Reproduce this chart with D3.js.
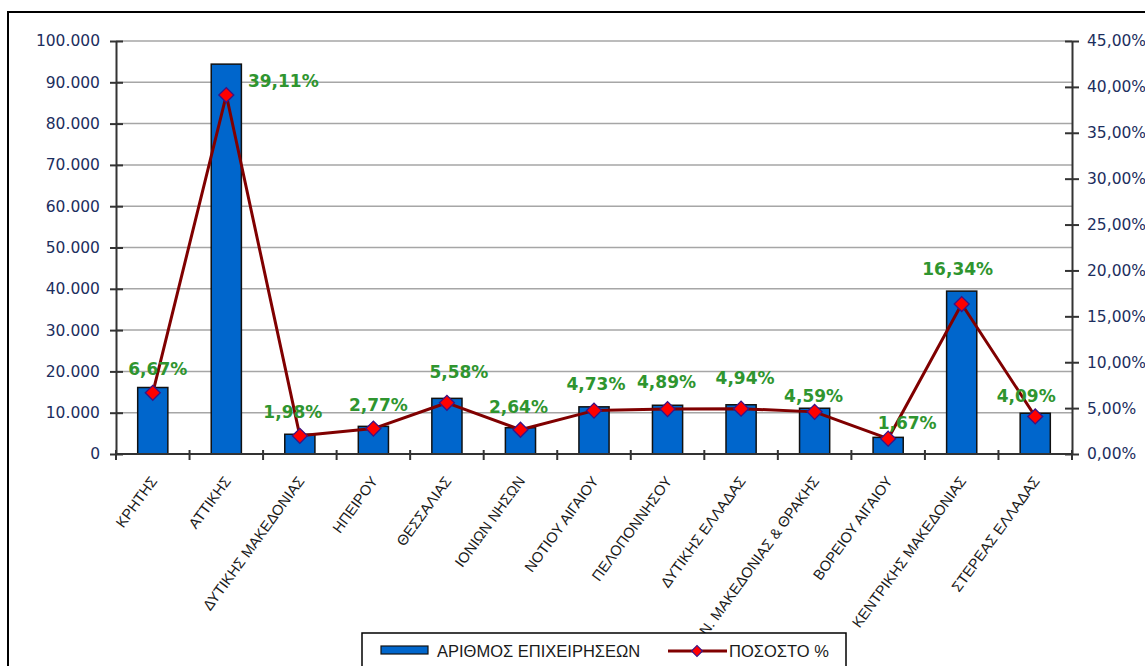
<!DOCTYPE html>
<html>
<head>
<meta charset="utf-8">
<script src="https://cdn.jsdelivr.net/npm/d3@7/dist/d3.min.js"></script>
<style>
  html, body { margin: 0; padding: 0; background: #fff; }
  svg { display: block; }
</style>
</head>
<body>
<svg id="chart" width="1145" height="666"></svg>
<script>
// Regions of Greece: number of businesses and share of the total
const regions = [
  "ΚΡΗΤΗΣ", "ΑΤΤΙΚΗΣ", "ΔΥΤΙΚΗΣ ΜΑΚΕΔΟΝΙΑΣ", "ΗΠΕΙΡΟΥ", "ΘΕΣΣΑΛΙΑΣ",
  "ΙΟΝΙΩΝ ΝΗΣΩΝ", "ΝΟΤΙΟΥ ΑΙΓΑΙΟΥ", "ΠΕΛΟΠΟΝΝΗΣΟΥ", "ΔΥΤΙΚΗΣ ΕΛΛΑΔΑΣ",
  "ΑΝ. ΜΑΚΕΔΟΝΙΑΣ & ΘΡΑΚΗΣ", "ΒΟΡΕΙΟΥ ΑΙΓΑΙΟΥ", "ΚΕΝΤΡΙΚΗΣ ΜΑΚΕΔΟΝΙΑΣ", "ΣΤΕΡΕΑΣ ΕΛΛΑΔΑΣ"
];
const businesses = [16100, 94400, 4780, 6690, 13470, 6370, 11420, 11800, 11920, 11080, 4030, 39440, 9870];
const sharePct = [6.67, 39.11, 1.98, 2.77, 5.58, 2.64, 4.73, 4.89, 4.94, 4.59, 1.67, 16.34, 4.09];
const leftTicks = [0, 10000, 20000, 30000, 40000, 50000, 60000, 70000, 80000, 90000, 100000];
const rightTicks = [0, 5, 10, 15, 20, 25, 30, 35, 40, 45];
const legendLabels = ["ΑΡΙΘΜΟΣ ΕΠΙΧΕΙΡΗΣΕΩΝ", "ΠΟΣΟΣΤΟ %"];

// Hand-placed nudges for the percentage labels (dx, dy from each marker)
const labelNudge = [[5,-24],[57,-14],[-7,-24],[5,-24],[12,-31],[-2,-23],[2,-27],[-1,-27],[4,-31],[-1,-16],[19,-16],[-4,-35],[-9,-20]];

const greek = d3.formatLocale({ decimal: ",", thousands: ".", grouping: [3], currency: ["€", ""] });
const fmtCount = greek.format(",.0f");
const fmtPct = v => greek.format(".2f")(v) + "%";

const svg = d3.select("#chart");
const plot = { left: 116, right: 1072, top: 41, bottom: 454 };

const x = d3.scaleBand().domain(regions).range([plot.left, plot.right])
  .paddingInner(0.59).paddingOuter(0.295);
const y = d3.scaleLinear().domain([0, 100000]).range([plot.bottom, plot.top]);
const y2 = d3.scaleLinear().domain([0, 45]).range([plot.bottom, plot.top]);
const cx = d => x(d) + x.bandwidth() / 2;

// outer frame
svg.append("path").attr("d", "M8,668 L8,12 L1150,12")
  .attr("fill", "none").attr("stroke", "#000").attr("stroke-width", 2);

// horizontal gridlines
svg.append("g").selectAll("line").data(leftTicks.filter(v => v > 0)).join("line")
  .attr("x1", plot.left).attr("x2", plot.right)
  .attr("y1", d => y(d)).attr("y2", d => y(d))
  .attr("stroke", "#a6a6a6").attr("stroke-width", 1.5);

// bars
svg.append("g").selectAll("rect").data(businesses).join("rect")
  .attr("x", (d, i) => x(regions[i]))
  .attr("width", x.bandwidth())
  .attr("y", d => y(d))
  .attr("height", d => plot.bottom - y(d))
  .attr("fill", "#0066cc").attr("stroke", "#111").attr("stroke-width", 1.5);

// left axis
const gl = svg.append("g").attr("transform", `translate(${plot.left},0)`)
  .call(d3.axisLeft(y).tickValues(leftTicks).tickFormat(fmtCount).tickSizeInner(6).tickSizeOuter(0).tickPadding(10));
gl.select(".domain").attr("stroke", "#333").attr("stroke-width", 2);
gl.selectAll(".tick line").attr("x2", 7).attr("x1", -6).attr("stroke", "#333").attr("stroke-width", 2);
gl.selectAll(".tick text").attr("x", -16).attr("fill", "#1c2e5e")
  .style("font-family", "'DejaVu Sans', Verdana, sans-serif").style("font-size", "15.5px");

// right axis
const gr = svg.append("g").attr("transform", `translate(${plot.right},0)`)
  .call(d3.axisRight(y2).tickValues(rightTicks).tickFormat(fmtPct).tickSizeInner(6).tickSizeOuter(0).tickPadding(10));
gr.select(".domain").attr("stroke", "#333").attr("stroke-width", 2);
gr.selectAll(".tick line").attr("x1", -7).attr("x2", 7).attr("stroke", "#333").attr("stroke-width", 2);
gr.selectAll(".tick text").attr("x", 15).attr("fill", "#1c2e5e")
  .style("font-family", "'DejaVu Sans', Verdana, sans-serif").style("font-size", "15.5px");

// bottom axis line with ticks on the category boundaries
const gb = svg.append("g");
gb.append("line").attr("x1", plot.left).attr("x2", plot.right)
  .attr("y1", plot.bottom).attr("y2", plot.bottom).attr("stroke", "#333").attr("stroke-width", 2);
const bounds = regions.map(r => cx(r) - x.step() / 2).concat([cx(regions[regions.length - 1]) + x.step() / 2]);
gb.selectAll("line.tk").data(bounds).join("line").attr("class", "tk")
  .attr("x1", d => d).attr("x2", d => d)
  .attr("y1", plot.bottom - 4).attr("y2", plot.bottom + 6)
  .attr("stroke", "#333").attr("stroke-width", 2);

// category labels
gb.selectAll("text").data(regions).join("text")
  .attr("transform", d => `translate(${cx(d) + 1},${plot.bottom + 24}) rotate(-54)`)
  .attr("text-anchor", "end")
  .attr("dy", "0.35em")
  .attr("fill", "#1a1a1a")
  .style("font-family", "'Liberation Sans', Arial, sans-serif").style("font-size", "14.7px")
  .text(d => d);

// percentage line
const line = d3.line().x((d, i) => cx(regions[i])).y(d => y2(d));
svg.append("path").datum(sharePct).attr("d", line)
  .attr("fill", "none").attr("stroke", "#800000").attr("stroke-width", 3).attr("stroke-linejoin", "round");

const diamond = d3.symbol(d3.symbolSquare, 112);
svg.append("g").selectAll("path").data(sharePct).join("path")
  .attr("d", diamond)
  .attr("transform", (d, i) => `translate(${cx(regions[i])},${y2(d)}) rotate(45)`)
  .attr("fill", "#ff0000").attr("stroke", "#3b1385").attr("stroke-width", 1.3);

// percentage labels
svg.append("g").selectAll("text").data(sharePct).join("text")
  .attr("x", (d, i) => cx(regions[i]) + labelNudge[i][0])
  .attr("y", (d, i) => y2(d) + labelNudge[i][1])
  .attr("text-anchor", "middle").attr("dy", "0.35em")
  .attr("fill", "#2f952f")
  .style("font-family", "'DejaVu Sans', Verdana, sans-serif").style("font-size", "17px").style("font-weight", "bold")
  .text(d => fmtPct(d));

// legend
const lg = svg.append("g");
lg.append("rect").attr("x", 362).attr("y", 633).attr("width", 484).attr("height", 50)
  .attr("fill", "#fff").attr("stroke", "#000").attr("stroke-width", 1.5);
lg.append("rect").attr("x", 381).attr("y", 646).attr("width", 47).attr("height", 8)
  .attr("fill", "#0066cc").attr("stroke", "#111").attr("stroke-width", 1.2);
lg.append("text").attr("x", 437).attr("y", 651).attr("dy", "0.35em")
  .attr("fill", "#1a1a1a").style("font-family", "'Liberation Sans', Arial, sans-serif").style("font-size", "16.5px")
  .text(legendLabels[0]);
lg.append("line").attr("x1", 668).attr("x2", 727).attr("y1", 651).attr("y2", 651)
  .attr("stroke", "#800000").attr("stroke-width", 3);
lg.append("path").attr("d", d3.symbol(d3.symbolSquare, 60))
  .attr("transform", "translate(697,651) rotate(45)")
  .attr("fill", "#ff0000").attr("stroke", "#3b1385").attr("stroke-width", 1.2);
lg.append("text").attr("x", 729).attr("y", 651).attr("dy", "0.35em")
  .attr("fill", "#1a1a1a").style("font-family", "'Liberation Sans', Arial, sans-serif").style("font-size", "16.5px")
  .text(legendLabels[1]);
</script>
</body>
</html>
